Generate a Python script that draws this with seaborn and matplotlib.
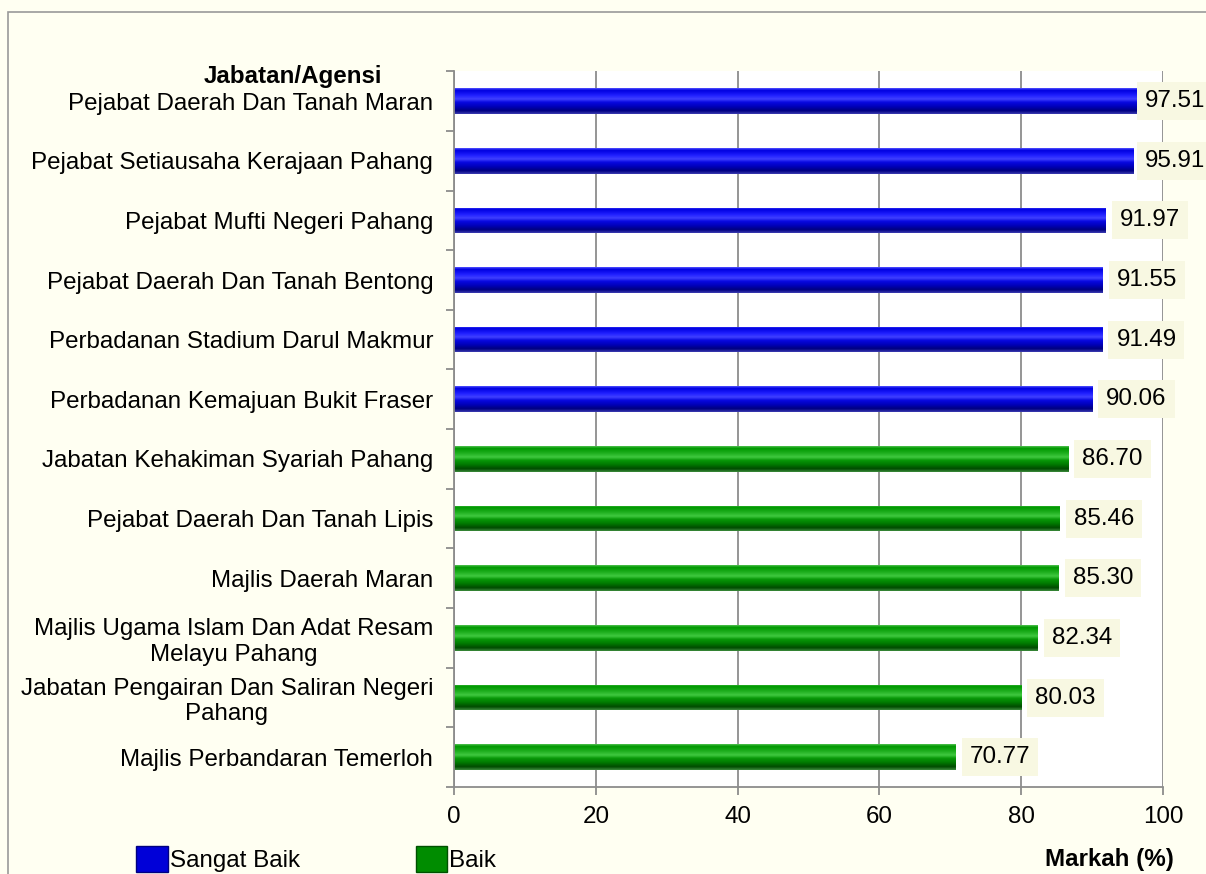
import matplotlib
matplotlib.use("Agg")
import matplotlib.pyplot as plt
import seaborn as sns
import pandas as pd
import numpy as np
from matplotlib.patches import Patch, Rectangle
from matplotlib.colors import LinearSegmentedColormap

# Data
agensi = [
    "Pejabat Daerah Dan Tanah Maran",
    "Pejabat Setiausaha Kerajaan Pahang",
    "Pejabat Mufti Negeri Pahang",
    "Pejabat Daerah Dan Tanah Bentong",
    "Perbadanan Stadium Darul Makmur",
    "Perbadanan Kemajuan Bukit Fraser",
    "Jabatan Kehakiman Syariah Pahang",
    "Pejabat Daerah Dan Tanah Lipis",
    "Majlis Daerah Maran",
    "Majlis Ugama Islam Dan Adat Resam\nMelayu Pahang",
    "Jabatan Pengairan Dan Saliran Negeri\nPahang",
    "Majlis Perbandaran Temerloh",
]
markah = [97.51, 95.91, 91.97, 91.55, 91.49, 90.06, 86.70, 85.46, 85.30, 82.34, 80.03, 70.77]
kategori = ["Sangat Baik"] * 6 + ["Baik"] * 6

df = pd.DataFrame({"Agensi": agensi, "Markah": markah, "Kategori": kategori})

warna = {"Sangat Baik": "#0000D8", "Baik": "#008C00"}
gelap = {"Sangat Baik": "#000080", "Baik": "#005000"}

# vertical gradients to imitate the bevelled bars
cmaps = {
    "Sangat Baik": LinearSegmentedColormap.from_list("biru", [
        (0.0, "#5050FF"), (0.08, "#0000E0"), (0.28, "#2020FF"), (0.42, "#4040FF"),
        (0.55, "#0808E0"), (0.72, "#0000B8"), (0.88, "#000080"), (1.0, "#3A3AB0")]),
    "Baik": LinearSegmentedColormap.from_list("hijau", [
        (0.0, "#50C050"), (0.08, "#009800"), (0.28, "#20B020"), (0.42, "#40C840"),
        (0.55, "#089808"), (0.72, "#007800"), (0.88, "#004A00"), (1.0, "#3A8A3A")]),
}

sns.set_style("white", {"text.color": "black", "xtick.color": "black", "ytick.color": "black"})
plt.rcParams['font.family'] = ['Liberation Sans', 'DejaVu Sans']
fs = 17.4

fig = plt.figure(figsize=(12.06, 8.74), dpi=100, facecolor="#FFFFF2")
ax = fig.add_axes([0.3765, 0.0995, 0.5877, 0.819])
ax.set_facecolor("white")

sns.barplot(data=df, x="Markah", y="Agensi", hue="Kategori", palette=warna,
            dodge=False, width=0.43, orient="h", ax=ax, legend=False,
            saturation=1, linewidth=0)

grad = np.linspace(0, 1, 64).reshape(-1, 1)
for p in list(ax.patches):
    w = p.get_width()
    if not np.isfinite(w) or w <= 0:
        continue
    x0, y0, h = p.get_x(), p.get_y(), p.get_height()
    idx = int(round(y0 + h / 2))
    im = ax.imshow(grad, cmap=cmaps[kategori[idx]], aspect="auto", origin="upper",
                   extent=(x0, x0 + w, y0 + h, y0), zorder=2.5, interpolation="bilinear")
    im.set_clip_path(p)

ax.set_xlim(0, 100)
ax.set_ylim(len(agensi) - 0.5, -0.5)

# value labels
labels = []
for i, v in enumerate(markah):
    t = ax.annotate(f"{v:.2f}", xy=(v, i), xytext=(10, 0), textcoords="offset points",
                    ha="left", va="center", fontsize=fs, color="black",
                    bbox=dict(boxstyle="square,pad=0.33", fc="#F8F8E2", ec="none"),
                    annotation_clip=False, zorder=5)
    labels.append(t)

ax.set_xticks([0, 20, 40, 60, 80, 100])
ax.xaxis.grid(True, color="#8C8C8C", linewidth=1.3)
ax.set_axisbelow(True)
ax.set_xlabel("")
ax.set_ylabel("")
ax.tick_params(axis="x", labelsize=fs, length=6, color="#8C8C8C", labelcolor="black",
               width=1.3, direction="out", bottom=True, pad=8)
ax.tick_params(axis="y", labelsize=fs, length=0, pad=15, labelcolor="black")
for lab in ax.get_yticklabels():
    lab.set_multialignment("center")
ax.set_yticks(np.arange(-0.5, len(agensi), 1), minor=True)
ax.tick_params(axis="y", which="minor", length=6, color="#8C8C8C", width=1.3, left=True)

for s in ["top", "right"]:
    ax.spines[s].set_visible(False)
for s in ["left", "bottom"]:
    ax.spines[s].set_color("#8C8C8C")
    ax.spines[s].set_linewidth(1.3)

# keep labels inside the figure (shift left like the original does)
fig.canvas.draw()
r = fig.canvas.get_renderer()
W = fig.bbox.width
for t in labels:
    ext = t.get_window_extent(r)
    over = ext.x1 - (W - 1)
    if over > 0:
        dx = t.xyann[0] - over * 72 / fig.dpi
        t.xyann = (dx, 0)

fig.text(0.243, 0.912, "Jabatan/Agensi", fontsize=fs, fontweight="bold", ha="center", va="center")
fig.text(0.920, 0.017, "Markah (%)", fontsize=fs, fontweight="bold", ha="center", va="center")

handles = [Patch(facecolor=warna["Sangat Baik"], edgecolor=gelap["Sangat Baik"], label="Sangat Baik"),
           Patch(facecolor=warna["Baik"], edgecolor=gelap["Baik"], label="Baik")]
fig.legend(handles=handles, loc="center left", bbox_to_anchor=(0.113, 0.017), ncol=2,
           frameon=False, fontsize=fs, handlelength=1.3, handleheight=1.3,
           handletextpad=0.08, columnspacing=4.8, borderaxespad=0, borderpad=0)

fig.patches.append(Rectangle((8 / 1206, -0.1), 1.2, 1 - 12 / 874 + 0.1, transform=fig.transFigure,
                             fill=False, edgecolor="#9A9A9A", linewidth=1.2, zorder=0))

fig.savefig("out.png", dpi=100, facecolor=fig.get_facecolor())
